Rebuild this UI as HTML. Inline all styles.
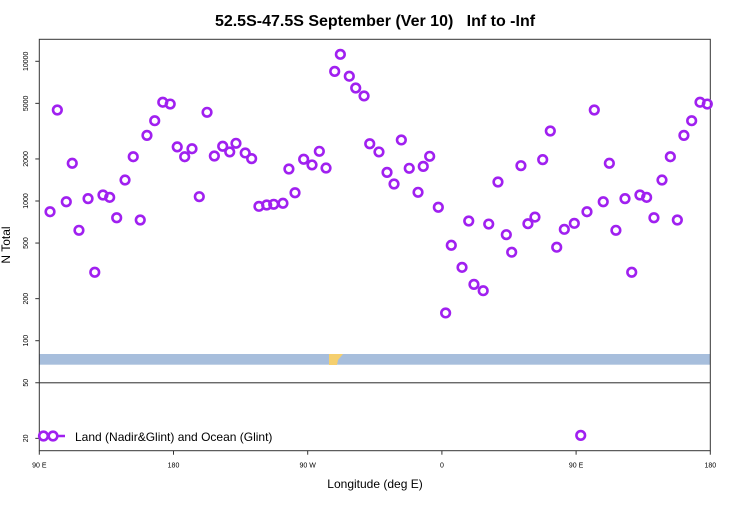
<!DOCTYPE html>
<html><head><meta charset="utf-8"><style>
body{margin:0;background:#fff;width:750px;height:500px;overflow:hidden}
svg{font-family:"Liberation Sans",sans-serif}
</style></head><body>
<svg id="chart" width="750" height="500">
<text x="375" y="26" text-anchor="middle" font-size="16" font-weight="bold" style="white-space:pre">52.5S-47.5S September (Ver 10)&#160;&#160;&#160;Inf to -Inf</text>
<text x="375" y="488" text-anchor="middle" font-size="12">Longitude (deg E)</text>
<text transform="translate(10,245) rotate(-90)" text-anchor="middle" font-size="12">N Total</text>
<g id="plot"></g>
</svg>
<script>
const lons=[97.2,102.1,108.1,112.1,116.6,122.7,127.2,132.7,137.2,141.9,147.5,153.0,157.7,162.2,167.4,172.8,177.8,182.5,187.5,192.4,197.3,202.5,207.4,213.0,217.7,221.9,228.1,232.4,237.3,242.5,247.2,253.4,257.4,261.5,267.3,272.9,277.8,282.3,288.1,291.9,297.9,302.2,307.8,311.6,317.8,323.2,327.9,332.8,338.1,344.0,347.5,351.8,357.6,362.5,366.3,373.5,378.0,381.5,387.7,391.4,397.6,403.2,406.8,413.0,417.7,422.4,427.6,432.7,437.0,442.1,448.8,453.1,457.3,462.2,468.2,472.3,476.7,482.8,487.3,492.8,497.3,502.2,507.6,513.2,517.9,522.3,527.5,533.1,538.0];
const counts=[838,4480,988,1862,617,1040,309,1104,1062,759,1413,2075,731,2950,3757,5094,4943,2439,2075,2367,1074,4315,2099,2466,2245,2588,2208,2010,916,936,947,963,1694,1146,1990,1812,2269,1722,8470,11220,7820,6440,5650,2570,2245,1603,1323,2735,1714,1154,1770,2089,902,158,482,335,719,253,228,684,1368,574,430,1790,688,767,1978,3170,467,627,692,21,838,4480,988,1862,617,1040,309,1104,1062,759,1413,2075,731,2950,3757,5094,4943];
const yTicks=[10000,5000,2000,1000,500,200,100,50,20];
const xTickPos=[90,180,270,360,450,540];
const xTickLabels=["90 E","180","90 W","0","90 E","180"];
const L=39.3,R=710.3,T=39.3,B=450.7;
const xs=v=>L+(v-90)/450*(R-L);
const ys=v=>61.3+(4-Math.log10(v))*139.7;
const NS="http://www.w3.org/2000/svg";
const g=document.getElementById('plot');
function mk(t,a){const e=document.createElementNS(NS,t);for(const k in a)e.setAttribute(k,a[k]);g.appendChild(e);return e;}
let e;
e=mk('rect',{x:L,y:354,width:R-L,height:10.7,fill:'#a7bedc'});


e=mk('path',{d:'M329,354 L343,354 L338,360 L337,365 L329,365 Z',fill:'#f5cf6e'});


e=mk('line',{x1:L,x2:R,y1:ys(50),y2:ys(50),stroke:'#555','stroke-width':1.2});


e=mk('rect',{x:L,y:T,width:R-L,height:B-T,fill:'none',stroke:'#333','stroke-width':1});


yTicks.forEach(v=>{const y=ys(v);
 e=mk('line',{x1:L-4,x2:L,y1:y,y2:y,stroke:'#333'});
 
 
 e=mk('text',{transform:`translate(28,${y}) rotate(-90)`,'text-anchor':'middle','font-size':7});
 e.textContent=v;
 
 
});
xTickPos.forEach((v,i)=>{const x=xs(v);
 e=mk('line',{x1:x,x2:x,y1:B,y2:B+4,stroke:'#333'});
 
 
 e=mk('text',{x:x,y:B+17,'text-anchor':'middle','font-size':7});
 e.textContent=xTickLabels[i];
 
 
});
lons.forEach((v,i)=>{
 e=mk('circle',{cx:xs(v),cy:ys(counts[i]),r:4.3,fill:'none',stroke:'#a020f0','stroke-width':2.6});
 
 
});
e=mk('line',{x1:43,x2:65,y1:436,y2:436,stroke:'#a020f0','stroke-width':2.6});


[43.5,53].forEach(x=>{
 e=mk('circle',{cx:x,cy:436,r:4.3,fill:'#fff',stroke:'#a020f0','stroke-width':2.6});
 
 
});
e=mk('text',{x:75,y:441,'font-size':12});
e.textContent='Land (Nadir&Glint) and Ocean (Glint)';


</script>
</body></html>
